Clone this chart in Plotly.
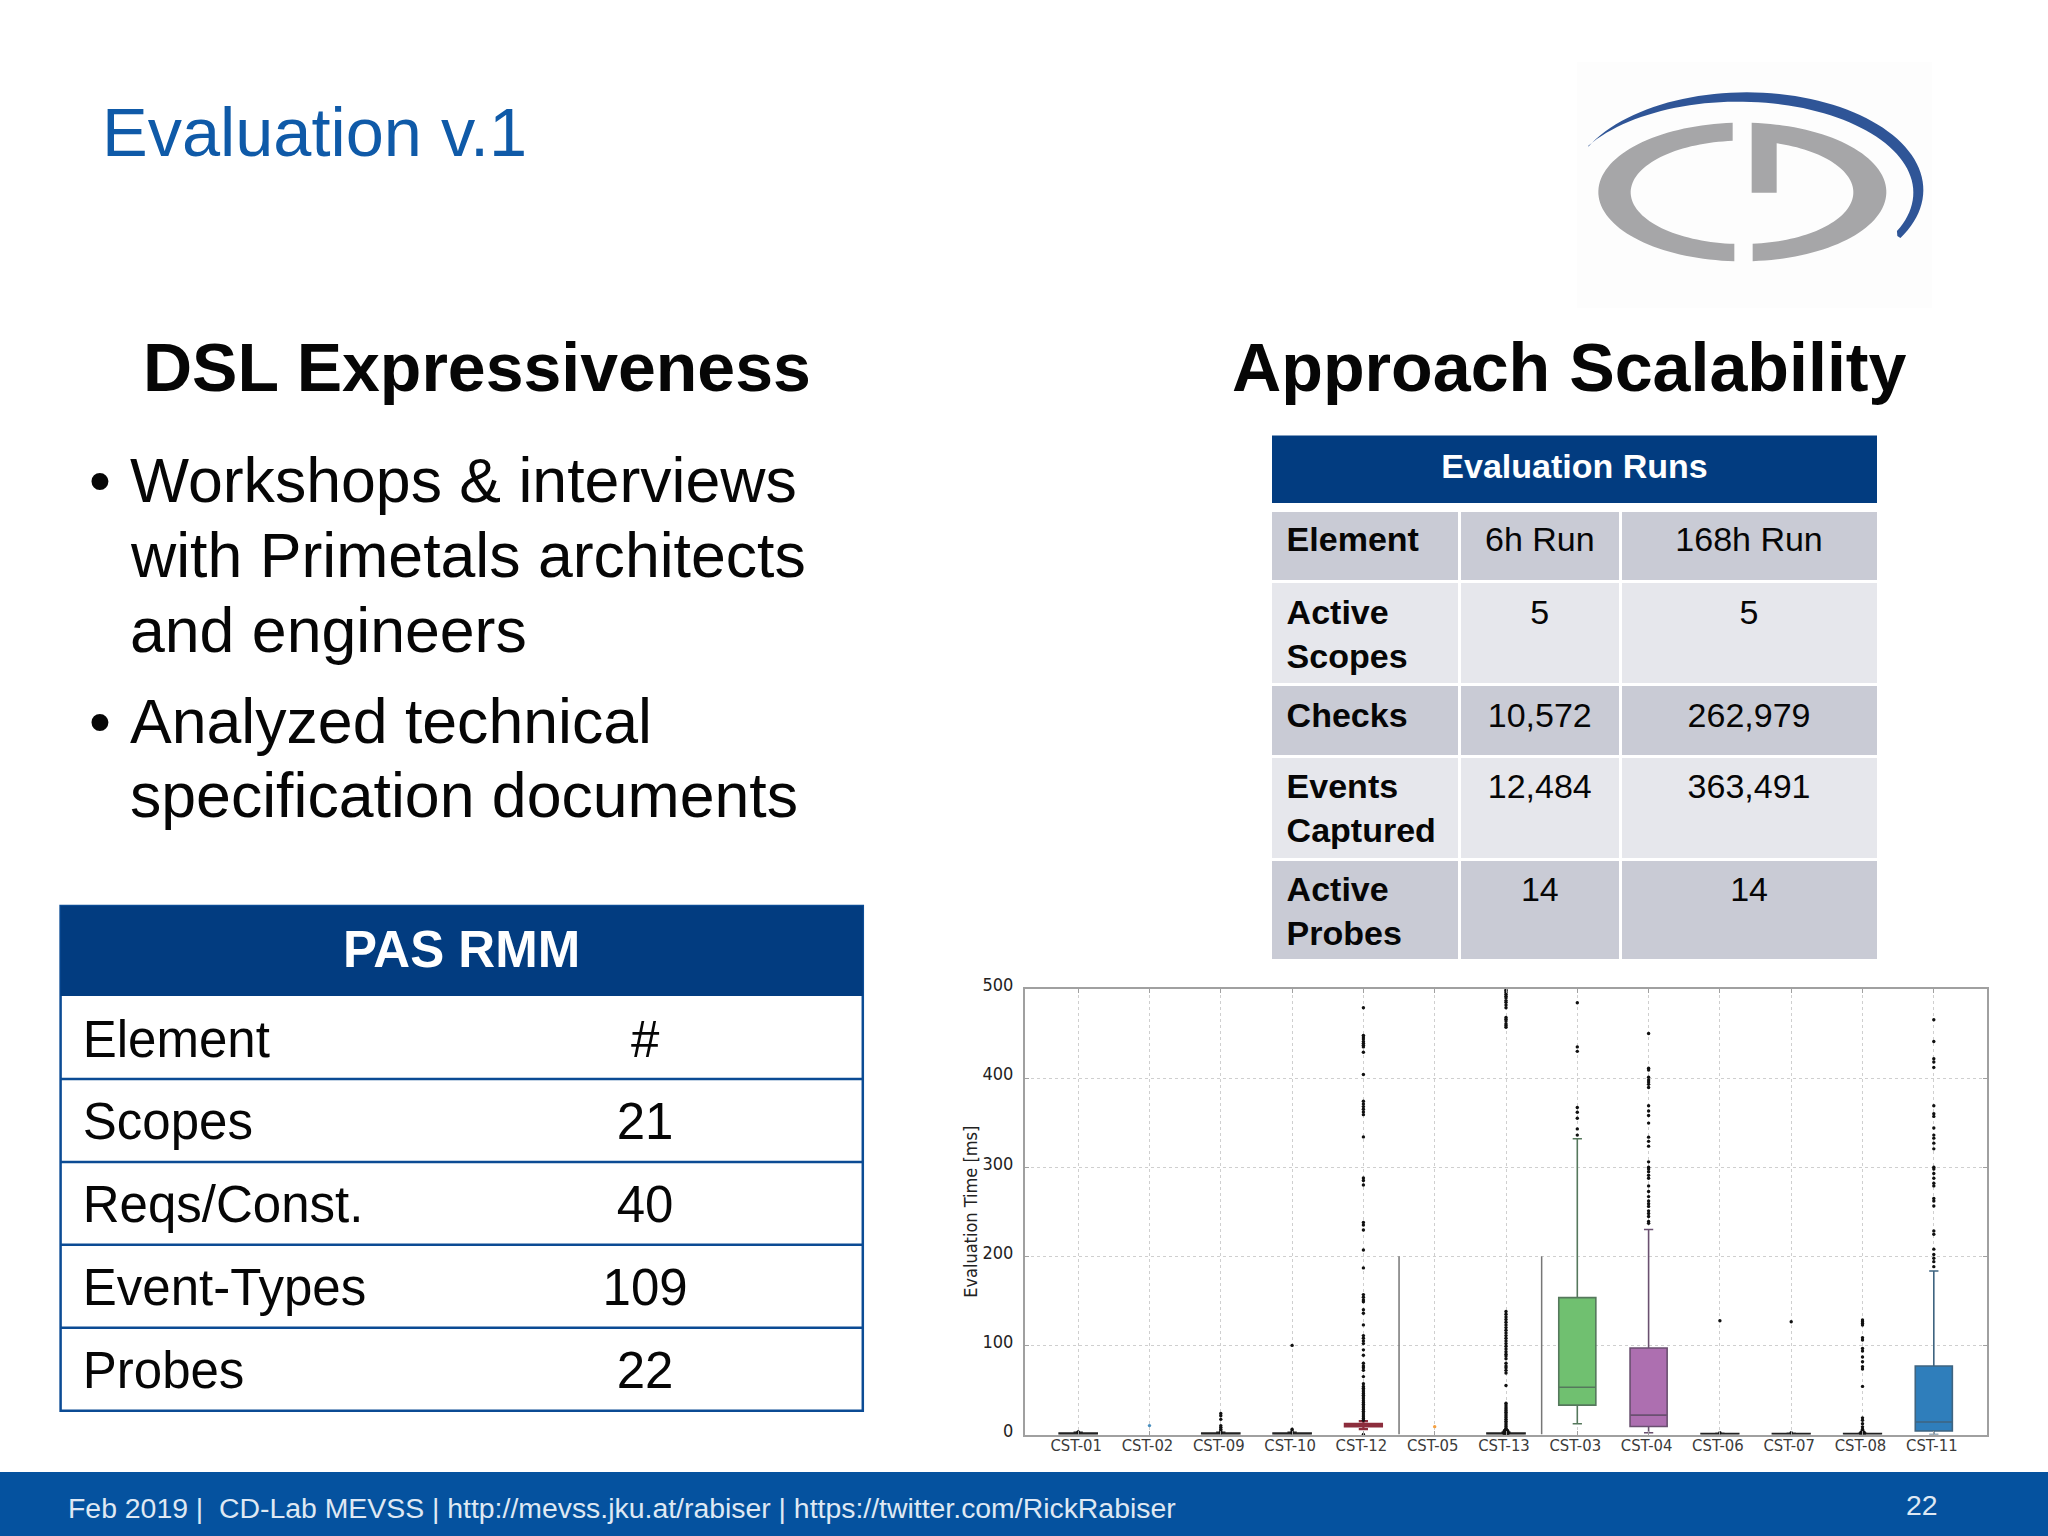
import numpy as np
import plotly.graph_objects as go

# ---------- chart data ----------
categories = ["CST-01","CST-02","CST-09","CST-10","CST-12","CST-05","CST-13","CST-03","CST-04","CST-06","CST-07","CST-08","CST-11"]
box_names = ["CST-01","CST-09","CST-10","CST-12","CST-13","CST-03","CST-04","CST-06","CST-07","CST-08","CST-11"]
box_q1 = [0.2,0.2,0.2,9,0.2,33,9,0.2,0.2,0.2,4]
box_median = [0.5,0.5,0.5,10.5,0.6,53,21.7,0.4,0.4,0.4,14]
box_q3 = [1,1,1,12,1.2,153.6,97,0.7,0.7,0.7,76.8]
box_low = [0,0,0,6,0,12,2,0,0,0,0]
box_high = [2,2,2,15,2,332,230,1,1,1,183.5]
box_fill = ["#222222","#222222","#222222","#8c2d3c","#222222","#70c070","#ad6fb0","#222222","#222222","#222222","#2f7ebb"]
box_line = ["#222222","#222222","#222222","#8c2d3c","#222222","#55785c","#6a5070","#222222","#222222","#222222","#3f6480"]
box_lw = [2.6,2.6,2.6,2.2,2.6,1.6,1.6,2.2,2.2,2.2,1.6]
separators = [5.5, 7.5]
separator_top = [200, 200]

fliers_01 = [3, 2.5]
fliers_02 = [10]
fliers_09 = [23.6,21,17,10,8,6,4,2]
fliers_10 = [100,6,4,2]
fliers_12 = [479,448,446,444,441,439,437,435,429,404,374,371,368,365,362,359,334,288,285,280,238,235,229.6,207,187,157,154,151,149,140,136,123,111,108,105,102,95,89,80,77,75,72,65,57,54,52,50,48,46,44,42,40,38,36,34,32,30,28,26,24,22,20,18,16,0]
fliers_05 = [8.8]
fliers_13 = [499,498,496,494,492,490,487,485,482,479,468,466,464,461,459,457,138,135,132,129,126,123,120,117,114,111,108,105,102,99,96,93,90,88,85,80,77,75,72,69,55,35,33,31,29,27,25,23,21,19,17,15,13,11,9,7,5,3]
fliers_03 = [484.6,435,430,367,361.6,355,343,336]
fliers_04 = [450,411,409,401,398,395.5,393,389.5,369,363,358,349.5,333.7,329,323.6,306,300,298,295,291,287.6,279,272.7,267,262,259,256,251,248,244.6,239,237]
fliers_06 = [127.7,2]
fliers_07 = [126.6,2]
fliers_08 = [128.5,126.6,124.7,122.8,108.6,106,96.6,93.6,87,81.6,76,73.4,54,18.7,16,12,8.6,6,4,3,2]
fliers_11 = [465.5,441,421.7,418,412,369,360,357,344,336,332.6,327,320.6,300,298,293,287.6,282,279,265,262,256.5,228.5,224.7,208,202,197.8,194,188.4]
flier_sets = [fliers_01,fliers_02,fliers_09,fliers_10,fliers_12,fliers_05,fliers_13,fliers_03,fliers_04,fliers_06,fliers_07,fliers_08,fliers_11]
flier_colors = ["#111111","#4a90c0","#111111","#111111","#111111","#f5a040","#111111","#111111","#111111","#111111","#111111","#111111","#111111"]
blob_names = ["CST-13","CST-13","CST-13","CST-08"]
blob_values = [1,2,3,1]

y_ticks = [0,100,200,300,400,500]
y_title = "Evaluation Time [ms]"

# ---------- slide text ----------
slide_title = "Evaluation v.1"
left_heading = "DSL Expressiveness"
right_heading = "Approach Scalability"
bullet_lines = ["Workshops & interviews","with Primetals architects","and engineers","Analyzed technical","specification documents"]
bullet_flags = [True,False,False,True,False]
footer_text = "Feb 2019 |  CD-Lab MEVSS | http://mevss.jku.at/rabiser | https://twitter.com/RickRabiser"
page_number = "22"

pas_title = "PAS RMM"
pas_elements = ["Element","Scopes","Reqs/Const.","Event-Types","Probes"]
pas_counts = ["#","21","40","109","22"]

runs_title = "Evaluation Runs"
runs_elements = ["Element","Active<br>Scopes","Checks","Events<br>Captured","Active<br>Probes"]
runs_6h = ["6h Run","5","10,572","12,484","14"]
runs_168h = ["168h Run","5","262,979","363,491","14"]

# ---------- page geometry ----------
W, H = 2048, 1536
ARIAL = "Liberation Sans"
PLOT_L, PLOT_R, PLOT_T, PLOT_B = 1025, 1987, 989, 1434.5
NAVY = "#023c80"
FOOT = "#05529f"
TITLE_BLUE = "#0f5aa8"
RULE = "#0b4b94"
INK = "#060606"
CLEAR = "rgba(0,0,0,0)"
DARK_ROW, LIGHT_ROW = "#c9cbd5", "#e6e7ec"
RUN_TOPS = [510.5, 581.5, 684.2, 756.5, 859.2]
RUN_HEIGHTS = [71, 102.7, 72.3, 102.7, 101.6]
RUN_TEXT_DROP = [1.3, 3, 4, 2.5, 2.5]

def fx(x): return x / W
def fy(y): return 1 - y / H

fig = go.Figure()

# ---------- chart ----------
positions = {name: i + 1 for i, name in enumerate(categories)}
for sep, top in zip(separators, separator_top):
    fig.add_trace(go.Scatter(x=[sep, sep], y=[0, top], mode="lines",
                             line=dict(color="#777777", width=1.5), showlegend=False, hoverinfo="skip"))
for i, name in enumerate(box_names):
    fig.add_trace(go.Box(x=[positions[name]], q1=[box_q1[i]], median=[box_median[i]], q3=[box_q3[i]],
                         lowerfence=[box_low[i]], upperfence=[box_high[i]], name=name, width=0.52,
                         whiskerwidth=0.25, fillcolor=box_fill[i], boxpoints=False,
                         line=dict(color=box_line[i], width=box_lw[i]), showlegend=False))
for name, vals, col in zip(categories, flier_sets, flier_colors):
    fig.add_trace(go.Scatter(x=[positions[name]] * len(vals), y=vals, mode="markers", name=name,
                             marker=dict(size=3.4, color=col), showlegend=False, cliponaxis=False))
fig.add_trace(go.Scatter(x=[positions[n] for n in blob_names], y=blob_values, mode="markers",
                         marker=dict(size=7, color="#111111"), showlegend=False))

TICK_FONT = "DejaVu Sans Condensed, DejaVu Sans"
axis_common = dict(showline=True, mirror="ticks", linecolor="#a0a0a0", linewidth=2,
                   showgrid=True, gridcolor="#cfcfcf", griddash="dot", gridwidth=1,
                   zeroline=False, ticks="inside", ticklen=4, tickcolor="#a0a0a0")
fig.update_xaxes(domain=[fx(PLOT_L), fx(PLOT_R)], range=[0.254, 13.746], tickmode="array",
                 tickvals=[positions[c] for c in categories],
                 ticktext=categories, tickfont=dict(family=TICK_FONT, size=16.5, color="#3a3a3a"),
                 ticklabelshift=-2, ticklabelstandoff=-5, **axis_common)
fig.update_yaxes(domain=[fy(PLOT_B), fy(PLOT_T)], range=[0, 500], tickmode="array", tickvals=y_ticks,
                 tickfont=dict(family=TICK_FONT, size=18, color="#222222"),
                 ticklabelshift=-4, ticklabelstandoff=6,
                 title=dict(text=y_title, font=dict(family=TICK_FONT, size=18, color="#222222"), standoff=0),
                 **axis_common)

# ---------- tables ----------
def pad(t):
    return "&nbsp;" + t + "&nbsp;"

def plain_table(x0, x1, y0, y1, widths, columns, height, fills, aligns, size, color=INK, line_color="white", line_width=3):
    return go.Table(domain=dict(x=[fx(x0), fx(x1)], y=[fy(y1), fy(y0)]), columnwidth=widths,
                    header=dict(values=[""] * len(columns), height=0, line=dict(width=0), fill=dict(color=CLEAR), font=dict(size=1)),
                    cells=dict(values=columns, height=height, fill=dict(color=fills), align=aligns,
                               line=dict(color=line_color, width=line_width),
                               font=dict(family=ARIAL, size=size, color=color)))

# right table: fills in one layer, text in a clear layer above, one table per row
fig.add_trace(plain_table(1272, 1877, 435.4, 506, [1], [[""]], 68, [[NAVY]], ["center"], 34, "white", NAVY, 0))
fig.add_trace(plain_table(1272, 1877, 439.4, 510, [1], [[pad("<b>" + runs_title + "</b>")]], 64, [[CLEAR]], ["center"], 34, "white", CLEAR, 0))
first_col = ["\u2009<b>" + t.replace("<br>", "</b><br>\u2009<b>") + "</b>" for t in runs_elements]
for i in range(len(runs_elements)):
    fill = DARK_ROW if i % 2 == 0 else LIGHT_ROW
    fig.add_trace(plain_table(1270.5, 1878.5, RUN_TOPS[i], RUN_TOPS[i] + RUN_HEIGHTS[i] + 6, [189, 161.2, 257.8],
                              [[""], [""], [""]], RUN_HEIGHTS[i],
                              [[fill]] * 3, ["left", "center", "center"], 34))
for i in range(len(runs_elements)):
    top = RUN_TOPS[i] + RUN_TEXT_DROP[i]
    fig.add_trace(plain_table(1271.8, 1878.5, top, top + RUN_HEIGHTS[i] + 6, [187.7, 161.2, 257.8],
                              [[first_col[i]], [pad(runs_6h[i])], [pad(runs_168h[i])]], RUN_HEIGHTS[i],
                              [[CLEAR]] * 3, ["left", "center", "center"], 34, INK, CLEAR, 0))

# left table
fig.add_trace(plain_table(60.6, 862.8, 912.5, 1006, [1], [[pad("<b>" + pas_title + "</b>")]], 84, [[CLEAR]], ["center"], 51, "white", CLEAR, 0))
PAS_TOP, PAS_ROW = 996, 82.95
PAS_TEXT_DROP = 6.5
fig.add_trace(plain_table(60.6, 862.8, PAS_TOP + PAS_TEXT_DROP, 1430, [367, 435],
                          [["&nbsp;" + t for t in pas_elements], [pad(c) for c in pas_counts]], PAS_ROW,
                          [[CLEAR] * 5] * 2, ["left", "center"], 51, INK, CLEAR, 0))

shapes = []
def rect(x0, y0, x1, y1, fill, line=None, lw=0, layer="below"):
    shapes.append(dict(type="rect", xref="paper", yref="paper", x0=fx(x0), x1=fx(x1), y0=fy(y0), y1=fy(y1),
                       fillcolor=fill, line=dict(color=line or fill, width=lw), layer=layer))
def polygon(px, py, fill):
    path = "M " + " L ".join(f"{fx(a):.5f},{fy(b):.5f}" for a, b in zip(px, py)) + " Z"
    shapes.append(dict(type="path", xref="paper", yref="paper", path=path, fillcolor=fill, line=dict(width=0), layer="below"))

rect(60.6, 906, 862.8, 1410.8, "white", RULE, 2.5)
rect(60.6, 906, 862.8, 996, NAVY)
for k in range(1, len(pas_elements)):
    yy = PAS_TOP + k * PAS_ROW
    shapes.append(dict(type="line", xref="paper", yref="paper", x0=fx(60.6), x1=fx(862.8), y0=fy(yy), y1=fy(yy),
                       line=dict(color=RULE, width=2.5), layer="below"))
rect(0, 1472, W, H, FOOT)

# ---------- logo ----------
GREY, SWOOSH = "#a6a6a8", "#2f5597"
rect(1577, 62, 1932, 308, "#fdfdfd")
def lx(v): return 1540 + np.asarray(v, float) / 3
def ly(v): return 50 + np.asarray(v, float) / 3
def arc(cx, cy, rx, ry, a0, a1, n=70):
    t = np.radians(np.linspace(a0, a1, n))
    return cx + rx * np.cos(t), cy - ry * np.sin(t)
OUT = (607, 426, 432, 208)
INN = (606, 427, 334, 155)
def ang(e, x, top):
    c = np.degrees(np.arccos((x - e[0]) / e[2]))
    return c if top else -c
# C
ox, oy = arc(*OUT, ang(OUT, 578, True), 360 + ang(OUT, 583, False))
ix, iy = arc(*INN, 360 + ang(INN, 583, False), ang(INN, 578, True))
polygon(lx(np.r_[ox, ix]), ly(np.r_[oy, iy]), GREY)
# D
ox, oy = arc(*OUT, ang(OUT, 635, True), ang(OUT, 638, False))
ix, iy = arc(*INN, ang(INN, 638, False), ang(INN, 710, True))
polygon(lx(np.r_[ox, ix, 710, 635]), ly(np.r_[oy, iy, 428, 428]), GREY)
# swoosh
ox, oy = arc(620, 420, 530, 293, 153.7, -29.5)
ix, iy = arc(595, 428, 525, 273, -25, 149)
polygon(lx(np.r_[145, ox, 1072, ix]), ly(np.r_[292, oy, 558, iy]), SWOOSH)

# ---------- free text ----------
notes = []
def text(x, y, s, size, color=INK, bold=False, anchor="left"):
    notes.append(dict(xref="paper", yref="paper", x=fx(x), y=fy(y), text=f"<b>{s}</b>" if bold else s,
                      showarrow=False, xanchor=anchor, yanchor="middle", align=anchor,
                      font=dict(family=ARIAL, size=size, color=color)))
text(100, 133, slide_title, 68.5, TITLE_BLUE)
text(141, 367, left_heading, 68, INK, True)
text(1230, 367, right_heading, 68.2, INK, True)
for y, line, flag in zip([480, 555, 630.5, 720.6, 795], bullet_lines, bullet_flags):
    text(128, y, line, 62.6)
    if flag:
        text(87, y, "•", 62.6)
text(66, 1508, footer_text, 28.4, "#dfe8f3")
text(1922, 1505, page_number, 28.4, "#dfe8f3", anchor="center")

fig.update_layout(width=W, height=H, autosize=False, paper_bgcolor="white", plot_bgcolor="white",
                  margin=dict(l=0, r=0, t=0, b=0, pad=0, autoexpand=False),
                  shapes=shapes, annotations=notes, showlegend=False, boxmode="overlay")

fig.write_html("out.html", config=dict(displayModeBar=False),
               post_script="document.body.style.margin='0';document.body.style.overflow='hidden';")
